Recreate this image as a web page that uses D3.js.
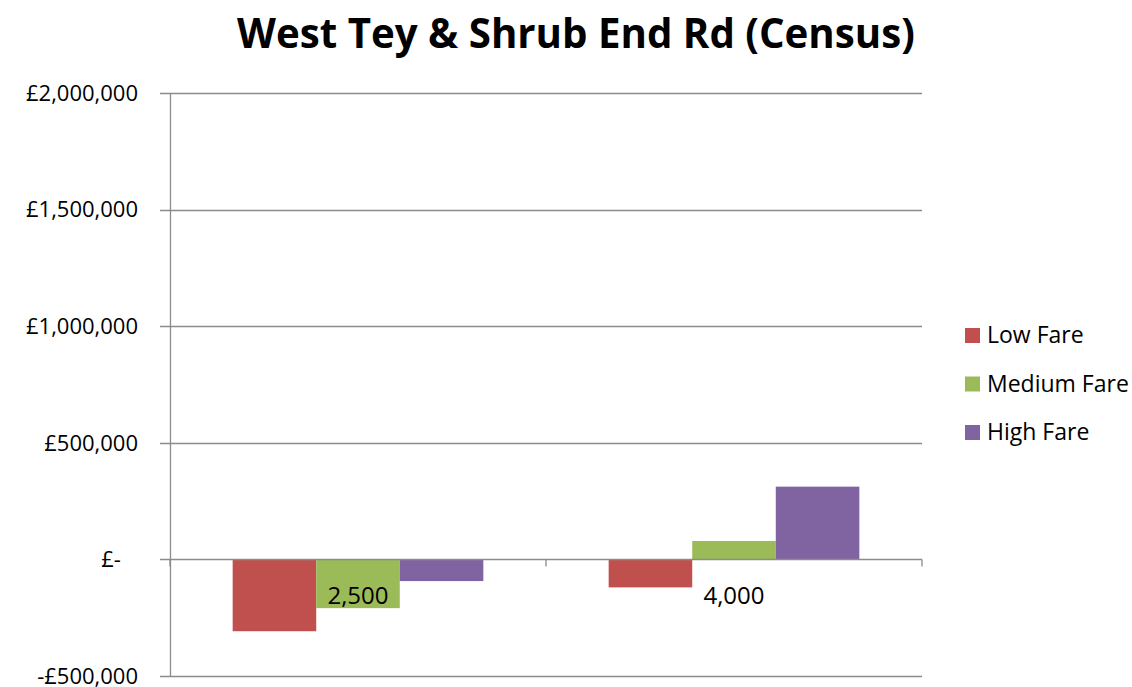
<!DOCTYPE html>
<html>
<head>
<meta charset="utf-8">
<script src="https://cdn.jsdelivr.net/npm/d3@7"></script>
<style>
  body { margin: 0; background: #fff; }
  svg text { font-family: "Open Sans", "Liberation Sans", sans-serif; fill: #000; }
</style>
</head>
<body>
<svg id="chart" width="1132" height="687"></svg>
<script>
// data
var categories = ['2,500', '4,000'];
var series = ['Low Fare', 'Medium Fare', 'High Fare'];
var lowFare = [-308000, -120000];
var mediumFare = [-209000, 79000];
var highFare = [-93000, 312000];
var yTicks = [-500000, 0, 500000, 1000000, 1500000, 2000000];
var colors = ['#C0504D', '#9BBB59', '#8064A2'];

var values = [lowFare, mediumFare, highFare];
var rows = categories.map(function(c, i) {
  return { cat: c, vals: series.map(function(s, j) { return { key: s, v: values[j][i], idx: j }; }) };
});

var svg = d3.select('#chart');
var plotLeft = 170, plotRight = 922, plotTop = 93, plotBottom = 676;

var y = d3.scaleLinear().domain([-500000, 2000000]).range([plotBottom, plotTop]);
var x0 = d3.scaleBand().domain(categories).range([plotLeft, plotRight]);
var x1 = d3.scaleBand().domain(series).range([0, x0.bandwidth()]).paddingOuter(0.75);

// title, scaled to the width it takes in the reference
var title = svg.append('text')
  .attr('x', 576).attr('y', 48)
  .attr('text-anchor', 'middle')
  .style('font-weight', 'bold')
  .style('font-size', '38px')
  .text('West Tey & Shrub End Rd (Census)');
var tw = title.node().getComputedTextLength();
title.style('font-size', (38 * 678 / tw) + 'px');

// gridlines
svg.append('g').selectAll('line')
  .data(yTicks.filter(function(t) { return t !== 0; }))
  .enter().append('line')
  .attr('x1', plotLeft - 10).attr('x2', plotRight)
  .attr('y1', function(d) { return Math.round(y(d)) + 0.5; })
  .attr('y2', function(d) { return Math.round(y(d)) + 0.5; })
  .attr('stroke', '#8c8c8c').attr('stroke-width', 1.3);

// y axis line
svg.append('line')
  .attr('x1', plotLeft + 0.5).attr('x2', plotLeft + 0.5)
  .attr('y1', y(2000000)).attr('y2', y(-500000))
  .attr('stroke', '#8c8c8c').attr('stroke-width', 1.3);

// y tick labels
function fmt(d) {
  if (d === 0) return '£-\u00a0\u00a0\u00a0';
  var s = '£' + d3.format(',')(Math.abs(d));
  return d < 0 ? '-' + s : s;
}
svg.append('g').selectAll('text')
  .data(yTicks).enter().append('text')
  .attr('x', 138)
  .attr('y', function(d) { return y(d); })
  .attr('dy', '0.35em')
  .attr('text-anchor', 'end')
  .style('font-size', '22px')
  .text(fmt);

// bars
var groups = svg.append('g').selectAll('g')
  .data(rows).enter().append('g')
  .attr('transform', function(d) { return 'translate(' + x0(d.cat) + ',0)'; });

groups.selectAll('rect')
  .data(function(d) { return d.vals; })
  .enter().append('rect')
  .attr('x', function(d) { return x1(d.key); })
  .attr('width', x1.bandwidth())
  .attr('y', function(d) { return y(Math.max(0, d.v)); })
  .attr('height', function(d) { return Math.abs(y(d.v) - y(0)); })
  .attr('fill', function(d) { return colors[d.idx]; });

// category axis at zero
var zy = Math.round(y(0)) + 0.5;
svg.append('line')
  .attr('x1', plotLeft - 10).attr('x2', plotRight)
  .attr('y1', zy).attr('y2', zy)
  .attr('stroke', '#8c8c8c').attr('stroke-width', 1.3);
svg.append('g').selectAll('line')
  .data(categories.concat(['end']))
  .enter().append('line')
  .attr('x1', function(d, i) { return plotLeft + i * x0.step(); })
  .attr('x2', function(d, i) { return plotLeft + i * x0.step(); })
  .attr('y1', zy).attr('y2', zy + 7)
  .attr('stroke', '#8c8c8c').attr('stroke-width', 1.3);

// category labels
svg.append('g').selectAll('text')
  .data(categories).enter().append('text')
  .attr('x', function(d) { return x0(d) + x0.bandwidth() / 2; })
  .attr('y', zy + 44)
  .attr('text-anchor', 'middle')
  .style('font-size', '24px')
  .text(function(d) { return d; });

// legend
var legend = svg.append('g').selectAll('g')
  .data(series).enter().append('g')
  .attr('transform', function(d, i) { return 'translate(965,' + (335 + i * 48.5) + ')'; });
legend.append('rect')
  .attr('x', 0).attr('y', -7).attr('width', 15).attr('height', 15)
  .attr('fill', function(d, i) { return colors[i]; });
legend.append('text')
  .attr('x', 22).attr('y', 0).attr('dy', '0.35em')
  .style('font-size', '23px')
  .text(function(d) { return d; });
</script>
</body>
</html>
